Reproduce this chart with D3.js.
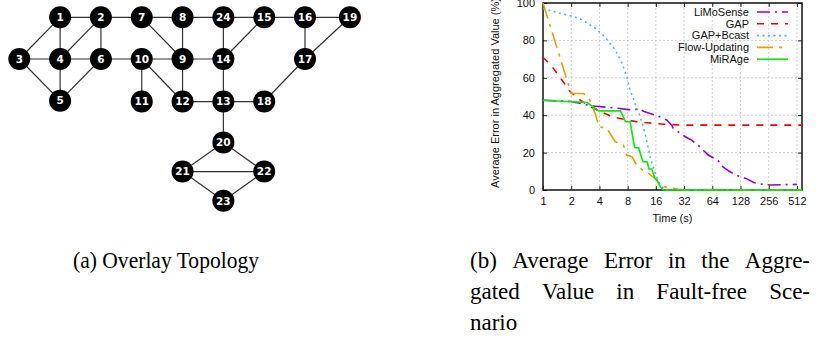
<!DOCTYPE html>
<html>
<head>
<meta charset="utf-8">
<style>
    body { margin: 0; background: white; }
    svg { display: block; }
    .cap { font-family: "Liberation Serif", "Times New Roman", Times, serif; font-size: 23px; }
</style>
<script src="https://cdn.jsdelivr.net/npm/d3@7"></script>
</head>
<body>
<svg id="fig" width="824" height="342"></svg>
<script>
// ---- topology (a) ----
// node id, grid column, grid row
const nodeIds  = [1, 2, 7, 8, 24, 15, 16, 19, 3, 4, 6, 10, 9, 14, 17, 5, 11, 12, 13, 18, 20, 21, 22, 23]
const nodeCols = [1, 2, 3, 4, 5, 6, 7, 8.1, 0, 1, 2, 3, 4, 5, 7, 1, 3, 4, 5, 6, 5, 4, 6, 5]
const nodeRows = [0, 0, 0, 0, 0, 0, 0, 0, 1, 1, 1, 1, 1, 1, 1, 2, 2.02, 2.02, 2.02, 2.02, 3, 3.7, 3.7, 4.4]
const links = [
    [1, 2], [2, 7], [7, 8], [8, 24], [24, 15], [15, 16], [16, 19],
    [1, 3], [1, 4], [2, 4], [2, 6], [3, 4], [4, 6], [3, 5], [4, 5], [6, 5],
    [6, 10], [10, 9], [9, 14], [7, 9], [8, 9], [24, 14], [15, 14],
    [16, 17], [19, 17], [10, 11], [10, 12], [9, 12], [12, 13], [14, 13],
    [13, 18], [17, 18], [13, 20], [20, 21], [20, 22], [21, 22], [21, 23], [22, 23]
]

// ---- chart (b) ----
const timeTicks = [1, 2, 4, 8, 16, 32, 64, 128, 256, 512]
const errTicks = [0, 20, 40, 60, 80, 100]
const seriesNames = ["LiMoSense", "GAP", "GAP+Bcast", "Flow-Updating", "MiRAge"]

const limoT = [1, 2, 3.3, 5.5, 8.2, 9.2, 10.5, 12, 17, 21, 23.6, 24.5, 33, 38.5, 45, 58, 74, 81, 97, 114, 146, 180, 210, 262, 512]
const limoV = [48, 47.3, 45, 44, 43, 42.7, 43.5, 42, 39.5, 37.4, 34.7, 33, 28.5, 26.7, 24, 18.7, 15.7, 12.8, 10, 8, 6.2, 3.9, 3.2, 2.7, 3]

const gapT = [1, 1.25, 1.6, 1.95, 2.5, 3.2, 4.1, 5.7, 8, 10, 12.8, 19.5, 29, 580]
const gapV = [71, 66, 58.7, 52.5, 48, 44.5, 41.8, 39, 37.4, 36.5, 36, 35.2, 34.7, 34.7]

const bcastT = [1, 1.48, 2.05, 2.6, 3.6, 4.6, 5.9, 7, 7.9, 8.5, 9.3, 10.9, 12.3, 13.9, 15.7, 17.8, 20, 580]
const bcastV = [97, 94.6, 93, 91, 86.5, 81.8, 74.8, 67.6, 59.6, 53.4, 48, 39, 30, 17.8, 8.9, 2.7, 0.3, 0]

const flowT = [1, 2, 2.7, 3.1, 3.6, 3.95, 4.8, 5.9, 7.2, 7.8, 8.9, 10, 11.5, 12.9, 14, 15.8, 17.8, 22, 27.6, 32, 580]
const flowV = [100, 51.6, 51.6, 49, 41, 33.8, 33, 25.8, 24, 18.7, 17.8, 13.3, 10.7, 9.8, 8, 6.2, 2.1, 1.4, 0.4, 0, 0]

const mirageT = [1, 2.96, 3.35, 3.95, 6.7, 7.6, 8.5, 9.5, 10.5, 11.6, 12.9, 13.5, 14.5, 15.6, 16.5, 17.8, 19.3, 580]
const mirageV = [48, 46.8, 44.8, 42.3, 42.3, 36.5, 36.5, 22.6, 22.6, 15.1, 15.1, 11.2, 11.2, 6.2, 5.3, 1.8, 0, 0]

const captionA = "(a) Overlay Topology"
const captionB = ["(b) Average Error in the Aggre-", "gated Value in Fault-free Sce-", "nario"]

let svg = d3.select("#fig")

function drawTopology() {
    let gx = d3.scaleLinear().domain([0, 7]).range([19.3, 305])
    let gy = d3.scaleLinear().domain([0, 1]).range([17.3, 59])
    let nodes = nodeIds.map((id, i) => ({id: id, x: gx(nodeCols[i]), y: gy(nodeRows[i])}))
    let byId = {}
    nodes.forEach(n => byId[n.id] = n)

    let g = svg.append("g")
    g.selectAll("line")
        .data(links)
        .enter().append("line")
        .attr("x1", d => byId[d[0]].x)
        .attr("y1", d => byId[d[0]].y)
        .attr("x2", d => byId[d[1]].x)
        .attr("y2", d => byId[d[1]].y)
        .attr("stroke", "#333")
        .attr("stroke-width", 1.2)

    let node = g.selectAll("g.node")
        .data(nodes)
        .enter().append("g")
        .attr("class", "node")
        .attr("transform", d => `translate(${d.x},${d.y})`)
    node.append("circle")
        .attr("r", 11)
        .attr("fill", "black")
    node.append("text")
        .attr("text-anchor", "middle")
        .attr("dy", "0.36em")
        .attr("fill", "white")
        .style("font", "bold 10.5px 'DejaVu Sans', sans-serif")
        .text(d => d.id)
}

function drawChart() {
    let x = d3.scaleLog().base(2).domain([1, 580]).range([543, 802])
    let y = d3.scaleLinear().domain([0, 100]).range([190, 3])
    let x0 = x.range()[0], x1 = x.range()[1], y0 = y.range()[0], y1 = y.range()[1]
    let font = "11px 'Liberation Sans', Arial, sans-serif"

    let g = svg.append("g")

    // grid
    g.selectAll("line.gx")
        .data(timeTicks.slice(1))
        .enter().append("line")
        .attr("x1", d => x(d)).attr("x2", d => x(d))
        .attr("y1", y0).attr("y2", y1)
        .attr("stroke", "#c4c4c4").attr("stroke-width", 0.8)
        .attr("stroke-dasharray", "2,2")
    g.selectAll("line.gy")
        .data(errTicks.slice(1, -1))
        .enter().append("line")
        .attr("x1", x0).attr("x2", x1)
        .attr("y1", d => y(d)).attr("y2", d => y(d))
        .attr("stroke", "#c4c4c4").attr("stroke-width", 0.8)
        .attr("stroke-dasharray", "2,2")

    // axes, ticks pointing inward and mirrored
    let bottom = g.append("g").attr("transform", `translate(0,${y0})`)
        .call(d3.axisBottom(x).tickValues(timeTicks).tickFormat(d3.format("d")).tickSizeInner(-4).tickSizeOuter(0))
    let top = g.append("g").attr("transform", `translate(0,${y1})`)
        .call(d3.axisTop(x).tickValues(timeTicks).tickFormat("").tickSizeInner(-4).tickSizeOuter(0))
    let left = g.append("g").attr("transform", `translate(${x0},0)`)
        .call(d3.axisLeft(y).tickValues(errTicks).tickSizeInner(-4).tickSizeOuter(0))
    let right = g.append("g").attr("transform", `translate(${x1},0)`)
        .call(d3.axisRight(y).tickValues(errTicks).tickFormat("").tickSizeInner(-4).tickSizeOuter(0))
    ;[bottom, top, left, right].forEach(a => {
        a.select(".domain").remove()
        a.selectAll("line").attr("stroke", "#222").attr("stroke-width", 1)
        a.selectAll("text").style("font", font).attr("fill", "#111")
    })
    bottom.selectAll("text").attr("dy", "0.71em").attr("y", 7)
    left.selectAll("text").attr("x", -8)

    // frame
    g.append("rect")
        .attr("x", x0).attr("y", y1)
        .attr("width", x1 - x0).attr("height", y0 - y1)
        .attr("fill", "none").attr("stroke", "#111").attr("stroke-width", 1.5)

    // series
    let series = [
        {name: seriesNames[0], t: limoT, v: limoV, color: "#9400d3", dash: "13,5,2,5"},
        {name: seriesNames[1], t: gapT, v: gapV, color: "#ff0000", dash: "7,7"},
        {name: seriesNames[2], t: bcastT, v: bcastV, color: "#56b4e9", dash: "2,3.5"},
        {name: seriesNames[3], t: flowT, v: flowV, color: "#e69f00", dash: "16,6,3,6"},
        {name: seriesNames[4], t: mirageT, v: mirageV, color: "#00ee00", dash: null}
    ]
    let line = d3.line().x(d => x(d[0])).y(d => y(d[1]))
    series.forEach(s => {
        g.append("path")
            .datum(s.t.map((t, i) => [t, s.v[i]]))
            .attr("d", line)
            .attr("fill", "none")
            .attr("stroke", s.color)
            .attr("stroke-width", 1.6)
            .attr("stroke-dasharray", s.dash)
    })

    // legend
    let leg = g.selectAll("g.legend")
        .data(series)
        .enter().append("g")
        .attr("transform", (d, i) => `translate(0,${12 + i * 11.8})`)
    leg.append("text")
        .attr("x", 749).attr("dy", "0.35em")
        .attr("text-anchor", "end")
        .style("font", font).attr("fill", "#111")
        .text(d => d.name)
    leg.append("line")
        .attr("x1", 757).attr("x2", 788)
        .attr("stroke", d => d.color)
        .attr("stroke-width", 1.6)
        .attr("stroke-dasharray", d => d.dash)

    // axis titles
    g.append("text")
        .attr("transform", "translate(499,93) rotate(-90)")
        .attr("text-anchor", "middle")
        .style("font", font).attr("fill", "#111")
        .text("Average Error in Aggregated Value (%)")
    g.append("text")
        .attr("x", (x0 + x1) / 2).attr("y", 222)
        .attr("text-anchor", "middle")
        .style("font", font).attr("fill", "#111")
        .text("Time (s)")
}

function drawCaptions() {
    svg.append("text")
        .attr("class", "cap")
        .attr("x", 73).attr("y", 268)
        .attr("textLength", 186)
        .attr("lengthAdjust", "spacingAndGlyphs")
        .text(captionA)

    // justified paragraph for (b)
    let left = 470, right = 810, lineH = 31
    captionB.forEach((ln, li) => {
        let words = ln.split(" ")
        let texts = words.map(w => svg.append("text")
            .attr("class", "cap")
            .attr("y", 268 + li * lineH)
            .text(w))
        let widths = texts.map(t => t.node().getComputedTextLength())
        let last = li == captionB.length - 1
        let gap = last ? 5.5 : (right - left - d3.sum(widths)) / (words.length - 1)
        let pos = left
        texts.forEach((t, i) => {
            t.attr("x", pos)
            pos += widths[i] + gap
        })
    })
}

drawTopology()
drawChart()
drawCaptions()
</script>
</body>
</html>
